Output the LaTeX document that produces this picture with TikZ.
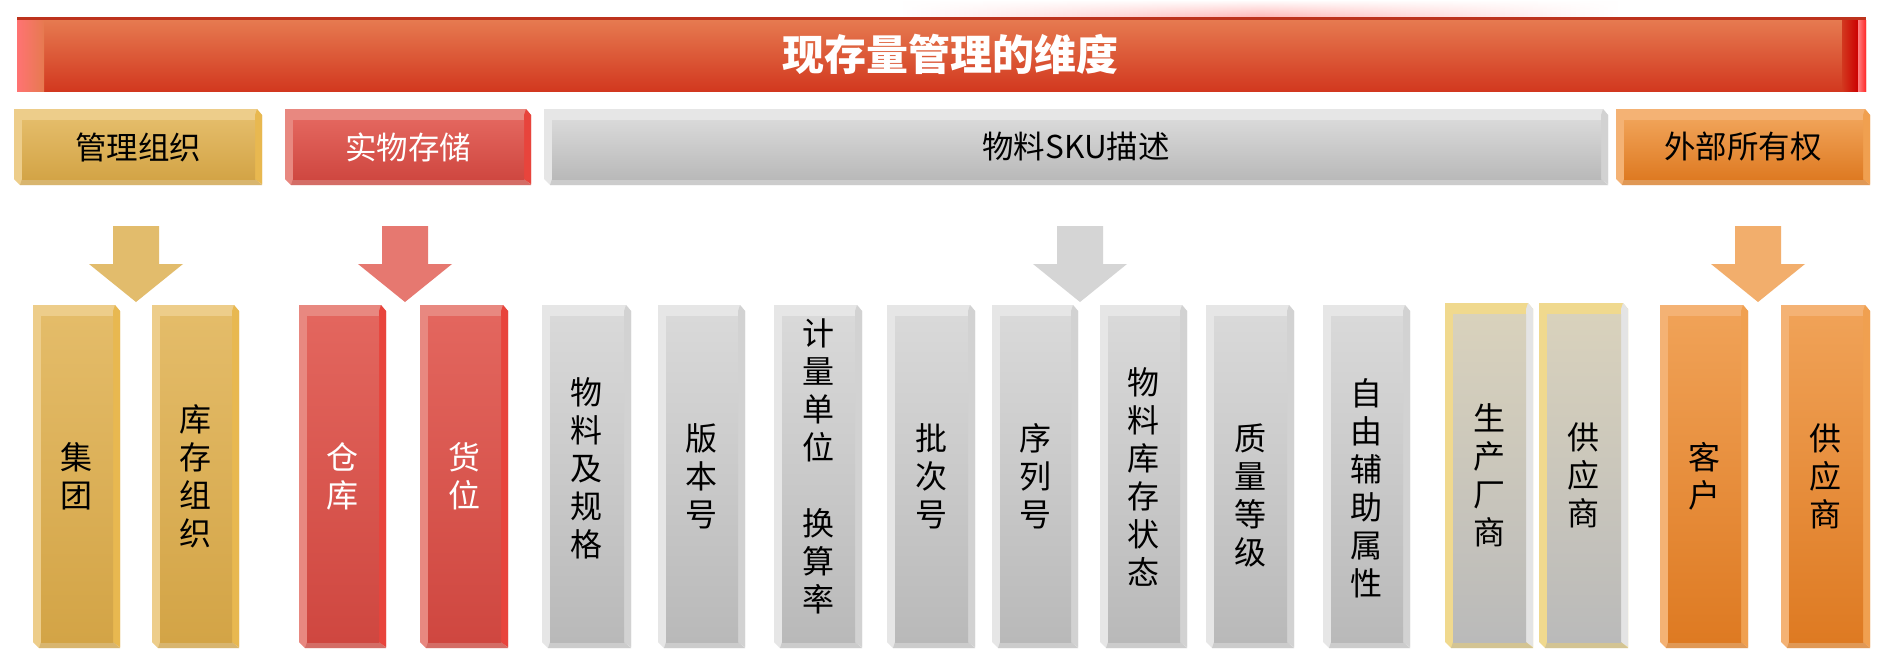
\documentclass[tikz,border=0pt]{standalone}
\usepackage{fontspec}
\setmainfont{Noto Sans CJK SC}
\usetikzlibrary{fadings}
% scheme colours: edge / right / face top / face bottom / text
\definecolor{goldedge}{HTML}{EDCD8A}\definecolor{goldright}{HTML}{E8B850}
\definecolor{goldtop}{HTML}{E4BC69}\definecolor{goldbot}{HTML}{D3A446}
\definecolor{goldtext}{HTML}{000000}\definecolor{goldarrow}{HTML}{E2BC6C}
\definecolor{rededge}{HTML}{E88880}\definecolor{redright}{HTML}{E8443C}
\definecolor{redtop}{HTML}{E3665E}\definecolor{redbot}{HTML}{CF4740}
\definecolor{redtext}{HTML}{FFFFFF}\definecolor{redarrow}{HTML}{E67870}
\definecolor{grayedge}{HTML}{E6E6E6}\definecolor{grayright}{HTML}{D2D2D2}
\definecolor{graytop}{HTML}{D9D9D9}\definecolor{graybot}{HTML}{B9B9B9}
\definecolor{graytext}{HTML}{000000}\definecolor{grayarrow}{HTML}{D5D5D5}
\definecolor{ygedge}{HTML}{F0D98E}\definecolor{ygright}{HTML}{E4E4E4}
\definecolor{ygtop}{HTML}{D9D2BC}\definecolor{ygbot}{HTML}{BABABA}
\definecolor{ygtext}{HTML}{000000}
\definecolor{orgedge}{HTML}{F4B274}\definecolor{orgright}{HTML}{F0A050}
\definecolor{orgtop}{HTML}{F0A257}\definecolor{orgbot}{HTML}{DE7A22}
\definecolor{orgtext}{HTML}{000000}\definecolor{orgarrow}{HTML}{F2AE6C}
\definecolor{bartop}{HTML}{E67A50}\definecolor{barbot}{HTML}{D2381F}
% #1 name, #2 x1, #3 y1, #4 x2, #5 y2, #6 scheme, #7 node style, #8 text
\newcommand\bevbox[8]{%
  \fill[#6edge] (#2,#3) -- ({#4-5},#3) -- (#4,{#3+6}) -- (#4,#5) -- ({#2+6},#5) -- (#2,{#5-6}) -- cycle;
  \fill[#6right] ({#4-7},{#3+6}) -- ({#4-5},#3) -- (#4,{#3+6}) -- (#4,{#5-1}) -- ({#4-7},{#5-6}) -- cycle;
  \fill[#6bot!85!black, opacity=.35] ({#2+8},{#5-6}) -- ({#4-7},{#5-6}) -- (#4,#5) -- ({#2+6},#5) -- cycle;
  \shade[top color=#6top, bottom color=#6bot] ({#2+8},{#3+11}) rectangle ({#4-7},{#5-6});
  \node[#7, text=#6text] (#1) at ({(#2+#4)/2},{(#3+#5)/2}) {#8};
}
% #1 name, #2 colour, #3 centre x
\newcommand\blockarrow[3]{%
  \coordinate (#1) at (#3,226);
  \fill[#2] ([xshift=-23pt]#1) -- ([xshift=23pt]#1) -- ([xshift=23pt,yshift=-38pt]#1)
    -- ([xshift=47pt,yshift=-38pt]#1) -- ([yshift=-76pt]#1) -- ([xshift=-47pt,yshift=-38pt]#1)
    -- ([xshift=-23pt,yshift=-38pt]#1) -- cycle;
}
\begin{document}
\begin{tikzpicture}[x=1pt,y=-1pt,
  coltext/.style={font=\fontsize{32}{38}\selectfont, align=center, inner sep=0pt},
  headtext/.style={font=\fontsize{31.5}{36}\selectfont, inner sep=0pt},
  titletext/.style={font=\bfseries\fontsize{42}{48}\selectfont, text=white, inner sep=0pt}]
\useasboundingbox (0,0) rectangle (1896,670);
\fill[white] (0,0) rectangle (1896,670);
% glow above the title bar
\shade[left color=white, right color=white, middle color=red!30!white, path fading=north]
  (900,0) rectangle (1620,18);
% title bar
\fill[barbot!90!black] (17,17) rectangle (1866,91);
\shade[top color=bartop, bottom color=barbot] (17,20) rectangle (1866,91);
\shade[left color=red!55!white, right color=bartop] (17,20) rectangle (44,91);
\shade[left color=barbot, right color=red!80!black] (1842,20) rectangle (1858,91);
\shade[left color=red!50!white, right color=red!85] (1858,20) rectangle (1866,91);
\node[titletext] (title) at (950,54) {现存量管理的维度};
% header row
\bevbox{hA}{14}{109}{262}{185}{gold}{headtext}{管理组织}
\bevbox{hB}{285}{109}{531}{185}{red}{headtext}{实物存储}
\bevbox{hC}{544}{109}{1608}{185}{gray}{headtext}{物料SKU描述}
\bevbox{hD}{1616}{109}{1870}{185}{org}{headtext}{外部所有权}
% block arrows
\blockarrow{aA}{goldarrow}{136}
\blockarrow{aB}{redarrow}{405}
\blockarrow{aC}{grayarrow}{1080}
\blockarrow{aD}{orgarrow}{1758}
% columns
\bevbox{c1}{33}{305}{120}{648}{gold}{coltext}{集\\团}
\bevbox{c2}{152}{305}{239}{648}{gold}{coltext}{库\\存\\组\\织}
\bevbox{c3}{299}{305}{386}{648}{red}{coltext}{仓\\库}
\bevbox{c4}{420}{305}{508}{648}{red}{coltext}{货\\位}
\bevbox{c5}{542}{305}{631}{648}{gray}{coltext,yshift=8pt}{物\\料\\及\\规\\格}
\bevbox{c6}{658}{305}{745}{648}{gray}{coltext}{版\\本\\号}
\bevbox{c7}{774}{305}{862}{648}{gray}{coltext,yshift=10pt}{计\\量\\单\\位\\~\\换\\算\\率}
\bevbox{c8}{887}{305}{975}{648}{gray}{coltext}{批\\次\\号}
\bevbox{c9}{992}{305}{1078}{648}{gray}{coltext}{序\\列\\号}
\bevbox{c10}{1100}{305}{1187}{648}{gray}{coltext}{物\\料\\库\\存\\状\\态}
\bevbox{c11}{1206}{305}{1294}{648}{gray}{coltext,yshift=-19pt}{质\\量\\等\\级}
\bevbox{c12}{1323}{305}{1410}{648}{gray}{coltext,yshift=-12pt}{自\\由\\辅\\助\\属\\性}
\bevbox{c13}{1445}{303}{1533}{648}{yg}{coltext}{生\\产\\厂\\商}
\bevbox{c14}{1539}{303}{1628}{648}{yg}{coltext}{供\\应\\商}
\bevbox{c15}{1660}{305}{1748}{648}{org}{coltext}{客\\户}
\bevbox{c16}{1781}{305}{1870}{648}{org}{coltext}{供\\应\\商}
\end{tikzpicture}
\end{document}
